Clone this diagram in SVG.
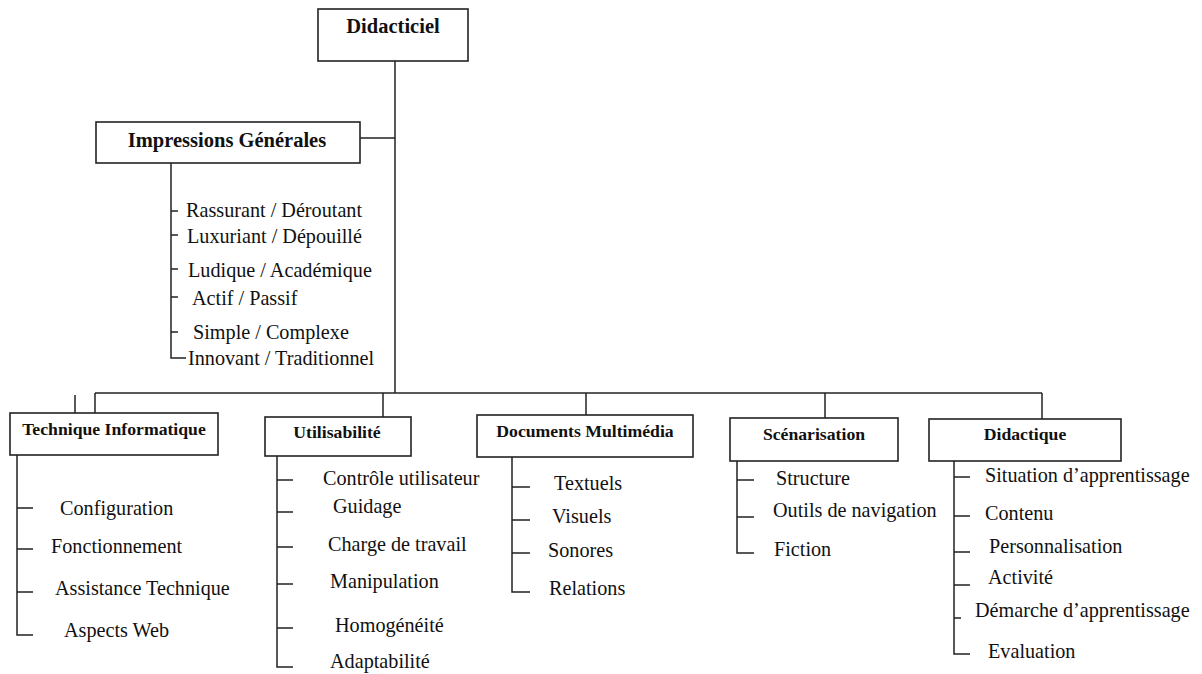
<svg xmlns="http://www.w3.org/2000/svg" width="1202" height="674" viewBox="0 0 1202 674">
<style>
.box{fill:#fff;stroke:#222;stroke-width:1.6}
.ln{fill:none;stroke:#222;stroke-width:1.5}
.t{font-family:"Liberation Serif","Times New Roman",serif;font-size:20.2px;fill:#111}
.b{font-family:"Liberation Serif","Times New Roman",serif;font-weight:bold;fill:#111;text-anchor:middle}
</style>
<rect width="1202" height="674" fill="#fff"/>
<g id="connectors" class="ln">
<path d="M395 61V393"/>
<path d="M360 138H395"/>
<path d="M95 393H1042"/>
<path d="M95 393V413"/>
<path d="M75 395V413"/>
<path d="M383 393V417"/>
<path d="M586 393V415"/>
<path d="M825 393V418"/>
<path d="M1042 393V419"/>
<path d="M171 163V358H186M171 211H178M171 235H178M171 269H178M171 297H178M171 332H178"/>
<path d="M17 455V635H33M17 508H33M17 549H33M17 592H33"/>
<path d="M277 456V667H293M277 480H293M277 512H293M277 547H293M277 584H293M277 628H293"/>
<path d="M512 457V592H530M512 487H530M512 520H530M512 553H530"/>
<path d="M737 461V553H754M737 480H754M737 517H754"/>
<path d="M954 461V654H970M954 477H970M954 516H970M954 552H970M954 585H970M954 618H961"/>
</g>
<g id="didacticiel"><rect class="box" x="318" y="9" width="150" height="52"/><text class="b" x="393" y="33" font-size="20.5">Didacticiel</text></g>
<g id="impressions"><rect class="box" x="96" y="122" width="264" height="41"/><text class="b" x="227" y="147" font-size="20.5">Impressions Générales</text>
<text class="t" x="186" y="217">Rassurant / Déroutant</text>
<text class="t" x="187" y="243">Luxuriant / Dépouillé</text>
<text class="t" x="188" y="277">Ludique / Académique</text>
<text class="t" x="192" y="305">Actif / Passif</text>
<text class="t" x="193" y="339">Simple / Complexe</text>
<text class="t" x="188" y="365">Innovant / Traditionnel</text>
</g>
<g id="technique"><rect class="box" x="10" y="413" width="208" height="42"/><text class="b" x="114" y="435" font-size="17.7">Technique Informatique</text>
<text class="t" x="60" y="515">Configuration</text>
<text class="t" x="51" y="553">Fonctionnement</text>
<text class="t" x="55" y="595">Assistance Technique</text>
<text class="t" x="64" y="637">Aspects Web</text>
</g>
<g id="utilisabilite"><rect class="box" x="265" y="417" width="146" height="39"/><text class="b" x="337" y="438" font-size="17.7">Utilisabilité</text>
<text class="t" x="323" y="485">Contrôle utilisateur</text>
<text class="t" x="333" y="513">Guidage</text>
<text class="t" x="328" y="551">Charge de travail</text>
<text class="t" x="330" y="588">Manipulation</text>
<text class="t" x="335" y="632">Homogénéité</text>
<text class="t" x="330" y="668">Adaptabilité</text>
</g>
<g id="documents"><rect class="box" x="477" y="415" width="216" height="42"/><text class="b" x="585" y="437" font-size="17.7">Documents Multimédia</text>
<text class="t" x="554" y="490">Textuels</text>
<text class="t" x="552" y="523">Visuels</text>
<text class="t" x="548" y="557">Sonores</text>
<text class="t" x="549" y="595">Relations</text>
</g>
<g id="scenarisation"><rect class="box" x="730" y="418" width="168" height="43"/><text class="b" x="814" y="440" font-size="17.7">Scénarisation</text>
<text class="t" x="776" y="485">Structure</text>
<text class="t" x="773" y="517">Outils de navigation</text>
<text class="t" x="774" y="556">Fiction</text>
</g>
<g id="didactique"><rect class="box" x="929" y="419" width="192" height="42"/><text class="b" x="1025" y="440" font-size="17.7">Didactique</text>
<text class="t" x="985" y="482">Situation d’apprentissage</text>
<text class="t" x="985" y="520">Contenu</text>
<text class="t" x="989" y="553">Personnalisation</text>
<text class="t" x="988" y="584">Activité</text>
<text class="t" x="975" y="617">Démarche d’apprentissage</text>
<text class="t" x="988" y="658">Evaluation</text>
</g>
</svg>
